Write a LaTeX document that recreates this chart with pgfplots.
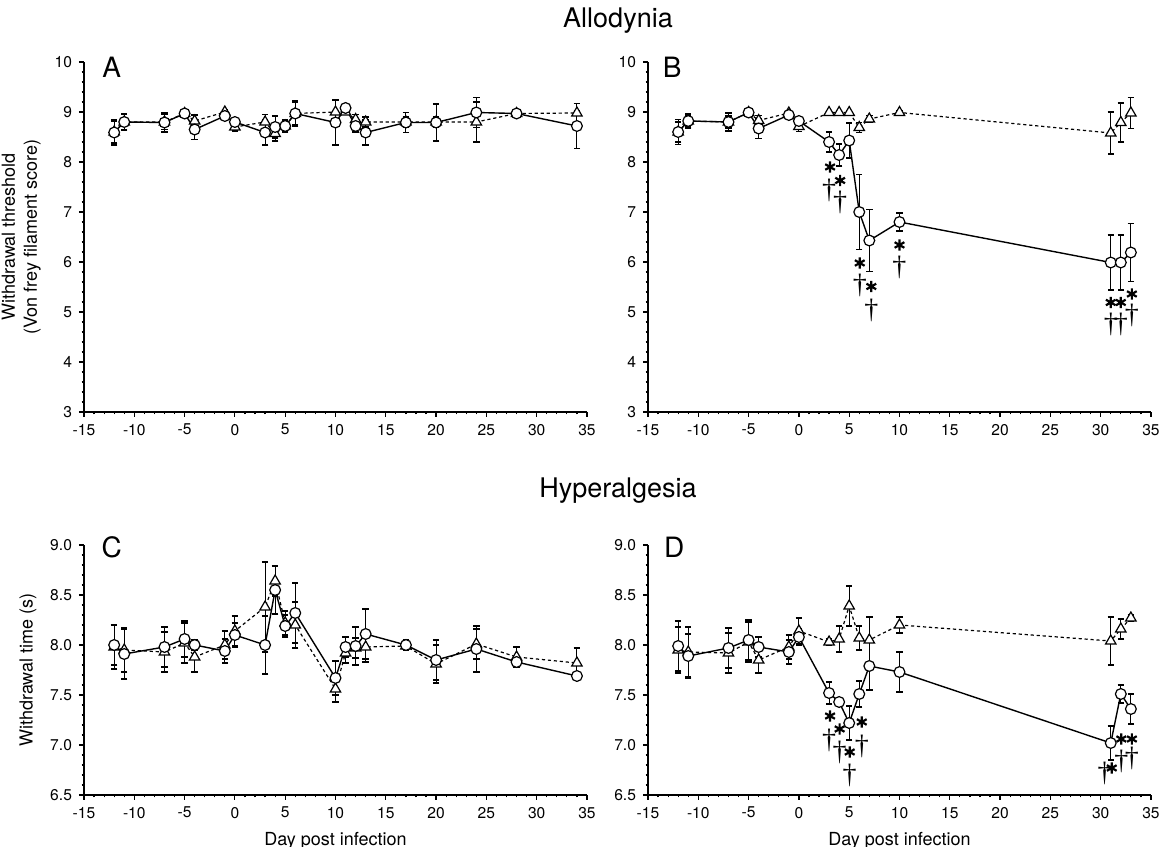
\documentclass[border=0pt]{standalone}
\usepackage{fontspec}
\setmainfont{TeX Gyre Heros}
\newfontfamily\serif{Liberation Serif}
\usepackage{pgfplots}
\pgfplotsset{compat=1.18}

% 1 px of the reference = 0.5 pt
\tikzset{letter/.style={font=\fontsize{14}{14}\selectfont}}
\pgfplotsset{
  panel/.style={
    scale only axis, width=251.5pt,
    axis lines=left, axis line style={-, line width=0.7pt},
    xmin=-15, xmax=35, xtick={-15,-10,...,35}, minor x tick num=4,
    minor y tick num=4,
    tick align=outside, major tick length=2.5pt, minor tick length=1.2pt,
    every tick/.style={black, line width=0.6pt},
    ticklabel style={font=\fontsize{7.8}{9}\selectfont},
    /pgf/number format/assume math mode=true,
    clip=false,
  },
  allo/.style={panel, height=175pt, ymin=3, ymax=10, ytick={3,...,10},
    ylabel style={align=center, font=\fontsize{9}{11}\selectfont}},
  hyper/.style={panel, height=125pt, ymin=6.5, ymax=9, ytick={6.5,7,...,9},
    yticklabel style={/pgf/number format/.cd, fixed, fixed zerofill, precision=1},
    xlabel={Day post infection},
    xlabel style={font=\fontsize{9}{11}\selectfont},
    ylabel style={font=\fontsize{9}{11}\selectfont}},
  errs/.style={error bars/.cd, y dir=both, y explicit,
    error mark=-, error bar style={solid, line width=0.55pt},
    error mark options={rotate=90, solid, line width=0.55pt, mark size=1.6pt}},
  circ/.style={black, solid, line width=0.7pt, mark=*, mark size=2.7pt,
    mark options={fill=white, solid, line width=0.6pt}, errs},
  tri/.style={black, dash pattern=on 1.6pt off 1.4pt, line width=0.6pt,
    mark=triangle*, mark size=3pt,
    mark options={fill=white, solid, line width=0.6pt}, errs},
  star/.style={only marks, mark=asterisk, mark size=2.8pt, line width=1.1pt, black},
  dagger/.style={only marks, mark=text, text mark={\serif\fontsize{14}{14}\selectfont †}},
}

\pgfplotstableread{
x y e
-12 8.59 0.25
-11 8.80 0.17
-7 8.79 0.19
-5 8.97 0.04
-4 8.65 0.20
-1 8.92 0.05
0 8.80 0.08
3 8.59 0.25
4 8.70 0.22
5 8.72 0.12
6 8.97 0.22
10 8.79 0.45
11 9.08 0.05
12 8.72 0.12
13 8.59 0.25
17 8.79 0.20
20 8.79 0.37
24 8.99 0.30
28 8.97 0.03
34 8.72 0.45
}\circA
\pgfplotstableread{
x y e
-12 8.60 0.22
-11 8.80 0.15
-7 8.80 0.15
-5 8.97 0.05
-4 8.82 0.12
-1 9.00 0.05
0 8.70 0.08
3 8.80 0.15
4 8.57 0.15
5 8.72 0.10
6 8.97 0.25
10 9.00 0.24
11 9.00 0.05
12 8.85 0.10
13 8.80 0.10
17 8.80 0.10
20 8.80 0.10
24 8.80 0.40
28 8.97 0.03
34 8.98 0.05
}\triA
\pgfplotstableread{
x y e
-12 8.60 0.25
-11 8.82 0.15
-7 8.80 0.18
-5 8.99 0.04
-4 8.67 0.20
-1 8.94 0.05
0 8.82 0.08
3 8.40 0.20
4 8.14 0.22
5 8.43 0.35
6 7.00 0.75
7 6.43 0.62
10 6.80 0.18
31 5.99 0.55
32 5.99 0.55
33 6.19 0.58
}\circB
\pgfplotstableread{
x y e
-12 8.60 0.20
-11 8.82 0.12
-7 8.80 0.12
-5 8.99 0.04
-4 8.83 0.10
-1 8.98 0.05
0 8.71 0.10
3 8.99 0.03
4 8.99 0.03
5 8.99 0.03
6 8.69 0.10
7 8.86 0.07
10 8.99 0.03
31 8.58 0.42
32 8.79 0.39
33 8.98 0.31
}\triB
\pgfplotstableread{
x y e
-12 8.00 0.20
-11 7.91 0.25
-7 7.98 0.20
-5 8.06 0.18
-4 8.00 0.05
-1 7.94 0.12
0 8.10 0.12
3 8.00 0.29
4 8.55 0.24
5 8.19 0.11
6 8.32 0.30
10 7.67 0.17
11 7.98 0.10
12 7.99 0.19
13 8.11 0.25
17 8.00 0.05
20 7.85 0.20
24 7.96 0.23
28 7.83 0.05
34 7.69 0.03
}\circC
\pgfplotstableread{
x y e
-12 7.98 0.22
-11 7.95 0.22
-7 7.93 0.20
-5 8.02 0.20
-4 7.88 0.15
-1 8.00 0.14
0 8.14 0.15
3 8.38 0.45
4 8.64 0.15
5 8.22 0.12
6 8.20 0.23
10 7.56 0.13
11 7.92 0.10
12 7.97 0.10
13 7.98 0.15
17 7.99 0.03
20 7.81 0.19
24 8.01 0.15
28 7.88 0.10
34 7.82 0.15
}\triC
\pgfplotstableread{
x y e
-12 7.99 0.25
-11 7.89 0.22
-7 7.97 0.20
-5 8.05 0.20
-4 7.98 0.10
-1 7.93 0.12
0 8.08 0.08
3 7.52 0.11
4 7.43 0.03
5 7.22 0.17
6 7.51 0.13
7 7.79 0.24
10 7.73 0.20
31 7.02 0.17
32 7.51 0.09
33 7.36 0.15
}\circD
\pgfplotstableread{
x y e
-12 7.95 0.23
-11 7.93 0.25
-7 7.92 0.20
-5 8.03 0.20
-4 7.85 0.13
-1 7.98 0.12
0 8.14 0.13
3 8.03 0.03
4 8.06 0.13
5 8.39 0.20
6 8.07 0.12
7 8.05 0.23
10 8.20 0.08
31 8.04 0.24
32 8.16 0.10
33 8.27 0.03
}\triD

\begin{document}
\begin{tikzpicture}
\useasboundingbox (0pt,0pt) rectangle (582pt,423.5pt);
\node[font=\fontsize{13.5}{16}\selectfont] at (309pt,413pt) {Allodynia};
\node[font=\fontsize{13.5}{16}\selectfont] at (309pt,178pt) {Hyperalgesia};

% A
\begin{axis}[allo, at={(42pt,217.5pt)}, anchor=south west,
  ylabel={Withdrawal threshold\\(Von frey filament score)}]
  \addplot[tri] table[x=x, y=y, y error=e] {\triA};
  \addplot[circ] table[x=x, y=y, y error=e] {\circA};
  \node[letter] at (rel axis cs:0.055,0.985) {A};
\end{axis}

% B
\begin{axis}[allo, at={(324pt,217.5pt)}, anchor=south west]
  \addplot[tri] table[x=x, y=y, y error=e] {\triB};
  \addplot[circ] table[x=x, y=y, y error=e] {\circB};
  \addplot[star] coordinates {(3.1,7.90) (4.1,7.63) (6.05,5.98) (7.2,5.51)
    (10,6.34) (31,5.19) (32,5.19) (33.1,5.36)};
  \addplot[dagger] coordinates {(3.0,7.43) (4.1,7.19) (6.05,5.53) (7.2,5.03)
    (10,5.89) (31,4.76) (32,4.76) (33.1,4.93)};
  \node[letter] at (rel axis cs:0.048,0.985) {B};
\end{axis}

% C
\begin{axis}[hyper, at={(42pt,26pt)}, anchor=south west,
  ylabel={Withdrawal time (s)}]
  \addplot[tri] table[x=x, y=y, y error=e] {\triC};
  \addplot[circ] table[x=x, y=y, y error=e] {\circC};
  \node[letter] at (rel axis cs:0.055,0.99) {C};
\end{axis}

% D
\begin{axis}[hyper, at={(324pt,26pt)}, anchor=south west]
  \addplot[tri] table[x=x, y=y, y error=e] {\triD};
  \addplot[circ] table[x=x, y=y, y error=e] {\circD};
  \addplot[star] coordinates {(3.1,7.29) (4.05,7.16) (5.05,6.93) (6.25,7.23)
    (31.1,6.77) (32.05,7.06) (33.1,7.06)};
  \addplot[dagger] coordinates {(3.0,7.05) (4.05,6.93) (5.05,6.70) (6.25,6.99)
    (30.4,6.72) (32.05,6.84) (33.1,6.87)};
  \node[letter] at (rel axis cs:0.052,0.99) {D};
\end{axis}
\end{tikzpicture}
\end{document}
